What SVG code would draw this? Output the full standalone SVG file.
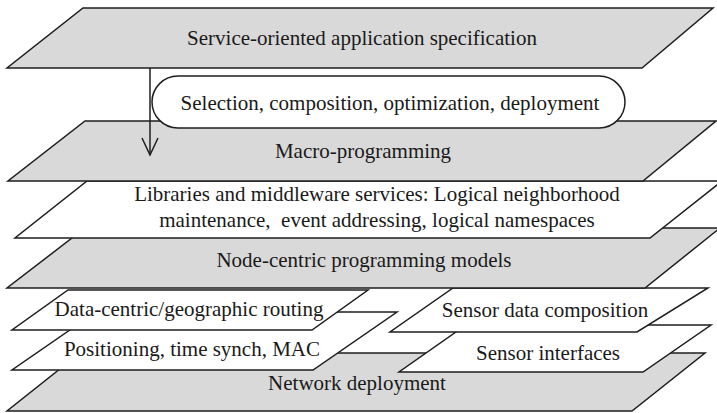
<svg xmlns="http://www.w3.org/2000/svg" width="717" height="413" viewBox="0 0 717 413">
<defs>
<style>
.g{fill:#d9d9d9;stroke:#1e1e1e;stroke-width:1.5;stroke-linejoin:miter}
.w{fill:#ffffff;stroke:#1e1e1e;stroke-width:1.5;stroke-linejoin:miter}
.t{font-family:"Liberation Serif","Times New Roman",serif;font-size:21px;fill:#1a1a1a;text-anchor:middle}
.c{fill:none;stroke:#1e1e1e;stroke-width:1.5}
</style>
<marker id="ah" markerUnits="userSpaceOnUse" viewBox="0 0 18 17" markerWidth="18" markerHeight="17" refX="17" refY="8" orient="auto" overflow="visible">
<path d="M0,0 L17,8 L0,16" fill="none" stroke="#1e1e1e" stroke-width="1.5"/>
</marker>
</defs>
<rect x="0" y="0" width="717" height="413" fill="#ffffff"/>

<g id="network">
<polygon class="g" points="80,353 705,353 632,411 7,411"/>
<text class="t" x="357" y="390">Network deployment</text>
</g>
<g id="sensor-interfaces">
<polygon class="w" points="466,325 711,325 643,372 399,372"/>
<text class="t" x="548" y="360">Sensor interfaces</text>
</g>
<g id="positioning">
<polygon class="w" points="96,312 397,312 313,370 12,370"/>
<text class="t" x="192" y="356">Positioning, time synch, MAC</text>
</g>
<g id="sensor-data">
<polygon class="w" points="453,288 708,288 637,332 390,332"/>
<text class="t" x="545" y="317">Sensor data composition</text>
</g>
<g id="data-centric">
<polygon class="w" points="68,290 368,290 312,330 12,330"/>
<text class="t" x="189" y="316">Data-centric/geographic routing</text>
</g>
<g id="node-centric">
<polygon class="g" points="85,228 720,228 645,288 7,288"/>
<text class="t" x="364" y="267">Node-centric programming models</text>
</g>
<g id="libraries">
<polygon class="w" points="87,181 722,181 650,238 15,238"/>
<text class="t" x="377" y="201">Libraries and middleware services: Logical neighborhood</text>
<text class="t" x="377" y="227" xml:space="preserve">maintenance,  event addressing, logical namespaces</text>
</g>
<g id="macro">
<polygon class="g" points="85,121 716,121 643,181 8,181"/>
<text class="t" x="363" y="158">Macro-programming</text>
</g>
<g id="selection">
<rect class="w" x="152" y="76" width="473" height="52" rx="26" ry="26"/>
<text class="t" x="390" y="110">Selection, composition, optimization, deployment</text>
</g>
<g id="service">
<polygon class="g" points="83,8 713,8 642,68 7,68"/>
<text class="t" x="362" y="45">Service-oriented application specification</text>
</g>

<g id="connectors">
<line class="c" x1="150" y1="68" x2="150" y2="155" marker-end="url(#ah)"/>
</g>
</svg>
